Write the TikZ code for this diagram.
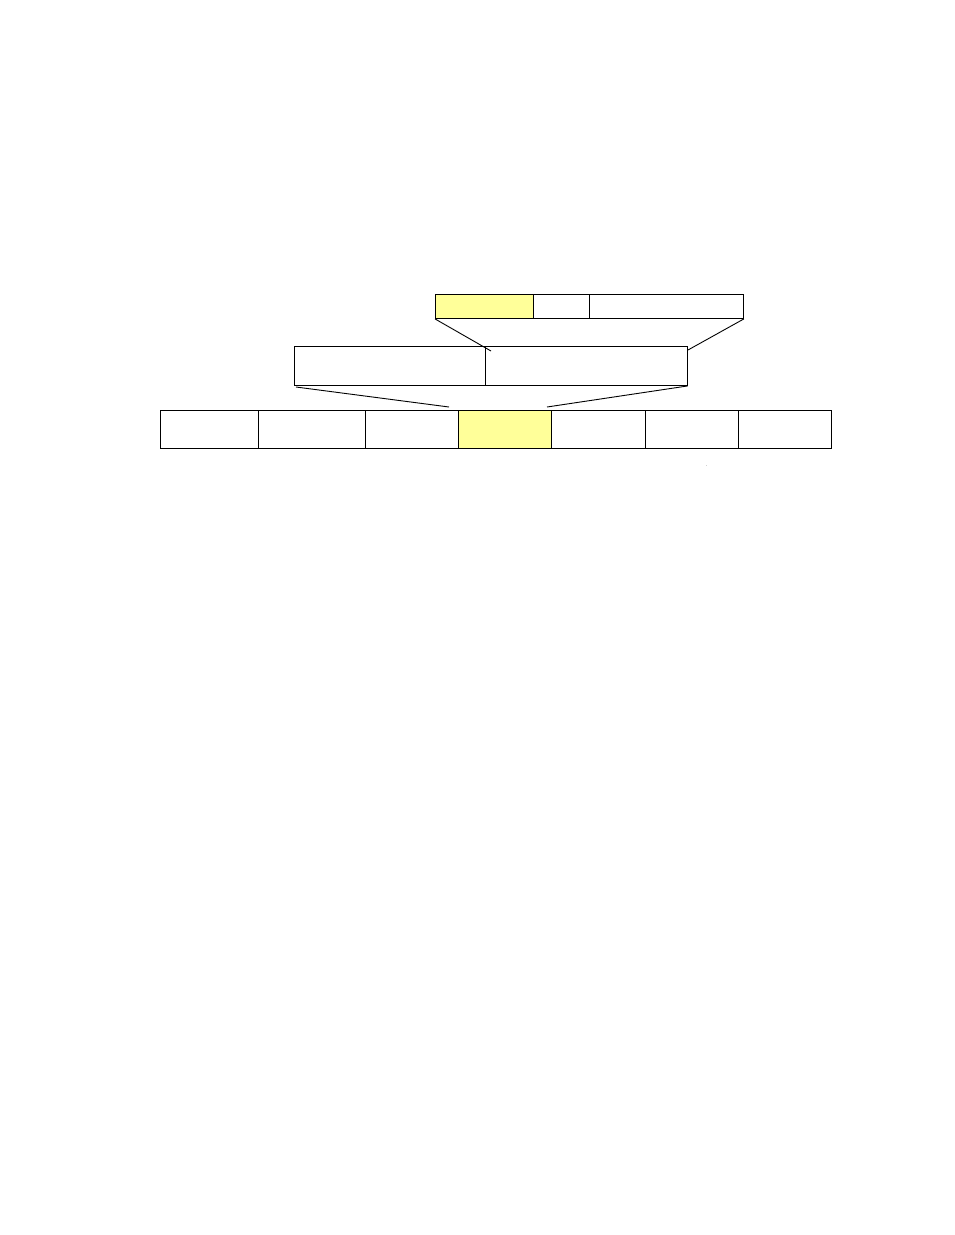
\documentclass[tikz,border=0pt]{standalone}
\begin{document}
\begin{tikzpicture}[x=1pt,y=-1pt,
  cell/.style={draw=black, line width=0.9pt, inner sep=0pt, anchor=north west},
  hilite/.style={cell, fill=yellowfill},
  link/.style={draw=black, line width=0.9pt}]
\definecolor{yellowfill}{HTML}{FFFF99}
\useasboundingbox (0,0) rectangle (954,1235);
% top row
\node[hilite, minimum width=98pt, minimum height=24pt] (t1) at (435,294) {};
\node[cell, minimum width=56pt, minimum height=24pt] (t2) at (533,294) {};
\node[cell, minimum width=154pt, minimum height=24pt] (t3) at (589,294) {};
% middle row
\node[cell, minimum width=191pt, minimum height=39pt] (m1) at (294,346) {};
\node[cell, minimum width=202pt, minimum height=39pt] (m2) at (485,346) {};
% bottom row
\node[cell, minimum width=98pt, minimum height=38pt] (b1) at (160,410) {};
\node[cell, minimum width=107pt, minimum height=38pt] (b2) at (258,410) {};
\node[cell, minimum width=93pt, minimum height=38pt] (b3) at (365,410) {};
\node[hilite, minimum width=93pt, minimum height=38pt] (b4) at (458,410) {};
\node[cell, minimum width=94pt, minimum height=38pt] (b5) at (551,410) {};
\node[cell, minimum width=93pt, minimum height=38pt] (b6) at (645,410) {};
\node[cell, minimum width=93pt, minimum height=38pt] (b7) at (738,410) {};
% connector ends
\coordinate (c1) at (491,351);
\coordinate (c2) at (688,350);
\coordinate (c3) at (296,387);
\coordinate (c4) at (449,407);
\coordinate (c5) at (547,407);
\draw[link] (t1.south west) -- (c1);
\draw[link] (t3.south east) -- (c2);
\draw[link] (c3) -- (c4);
\draw[link] (m2.south east) -- (c5);
\node[inner sep=0pt, font=\tiny] (dot) at (707,466) {.};
\end{tikzpicture}
\end{document}
